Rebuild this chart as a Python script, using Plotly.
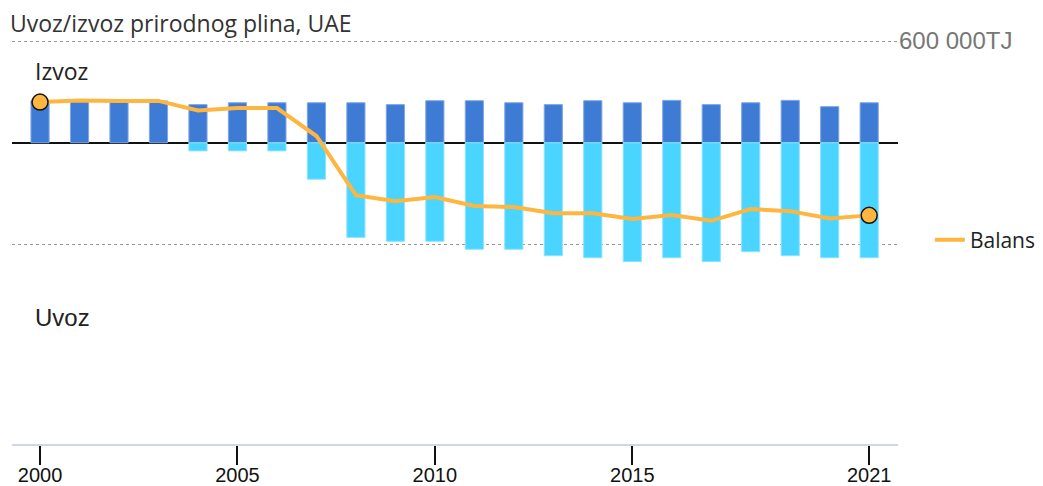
import plotly.graph_objects as go

years = list(range(2000, 2022))
izvoz = [247000, 246000, 244000, 247000, 225000, 236000, 236000, 236000, 236000, 225000,
         248000, 248000, 236000, 225000, 248000, 236000, 250000, 225000, 236000, 250000,
         213000, 236000]
uvoz = [0, 0, 0, 0, -48000, -48000, -48000, -215000, -558000, -581000,
        -581000, -628000, -628000, -666000, -678000, -701000, -678000, -701000, -642000, -666000,
        -678000, -678000]
balans = [240000, 250000, 247000, 247000, 191000, 205000, 205000, 40000, -309000, -345000,
          -320000, -373000, -379000, -416000, -416000, -450000, -426000, -460000, -391000, -403000,
          -446000, -428000]

tick_years = [2000, 2005, 2010, 2015, 2021]
y_ticks = [600000, -600000]
y_ticktext = ["600 000TJ", ""]

c_izvoz = "#3e7bd5"
c_uvoz = "#49d5ff"
c_bal = "#ffb640"

# The page body has an 8px margin, so the figure is sized to fit inside the window.
W, H = 1035, 478

fig = go.Figure()
fig.add_trace(go.Bar(x=years, y=izvoz, name="Izvoz", marker=dict(color=c_izvoz, line=dict(color="#7fa6e6", width=1)),
                     width=0.46, showlegend=False, hoverinfo="x+y"))
fig.add_trace(go.Bar(x=years, y=uvoz, name="Uvoz", marker=dict(color=c_uvoz, line=dict(color="#8fe3ff", width=1)),
                     width=0.46, showlegend=False, hoverinfo="x+y"))
fig.add_trace(go.Scatter(x=years, y=balans, name="Balans", mode="lines",
                         line=dict(color=c_bal, width=4)))
fig.add_trace(go.Scatter(x=[years[0], years[-1]], y=[balans[0], balans[-1]], mode="markers",
                         marker=dict(size=16, color=c_bal, line=dict(color="#111", width=1.5)),
                         showlegend=False, hoverinfo="skip"))

fig.update_layout(
    barmode="relative",
    width=W, height=H,
    margin=dict(l=4, r=145, t=32, b=42, autoexpand=False),
    plot_bgcolor="white", paper_bgcolor="white",
    font=dict(family="Liberation Sans, Arial", color="#111"),
    title=dict(text="Uvoz/izvoz prirodnog plina, UAE", x=2/W, xanchor="left", xref="container",
               y=1-15.5/H, yanchor="middle", yref="container",
               font=dict(family="Open Sans", size=23, color="#333")),
    legend=dict(x=1.036, xanchor="left", y=(436-232)/404, yanchor="middle",
                font=dict(family="Open Sans", size=21, color="#222"), bgcolor="rgba(0,0,0,0)",
                borderwidth=0),
    xaxis=dict(range=[1999.29, 2021.73], tickvals=tick_years, ticks="outside", ticklen=19,
               tickcolor="#111", tickwidth=1.5, showgrid=False, showline=True, linecolor="#ccd8ea",
               linewidth=2, tickfont=dict(size=20, color="#111"), zeroline=False, automargin=False,
               ticklabelstandoff=-7),
    yaxis=dict(range=[-1776000, 606000], tickvals=y_ticks, ticktext=y_ticktext, side="right",
               showgrid=True, gridcolor="#999", griddash="3px,3px", gridwidth=1,
               zeroline=True, zerolinecolor="#111", zerolinewidth=2,
               tickfont=dict(size=24, color="#777"), ticks="", showline=False, automargin=False),
    annotations=[
        dict(text="Izvoz", x=1999.82, y=426000, xref="x", yref="y", xanchor="left", yanchor="middle",
             showarrow=False, font=dict(family="Open Sans", size=23, color="#222")),
        dict(text="Uvoz", x=1999.81, y=-1032000, xref="x", yref="y", xanchor="left", yanchor="middle",
             showarrow=False, font=dict(family="Liberation Sans", size=24, color="#222")),
    ],
)

fig.write_html("out.html")
